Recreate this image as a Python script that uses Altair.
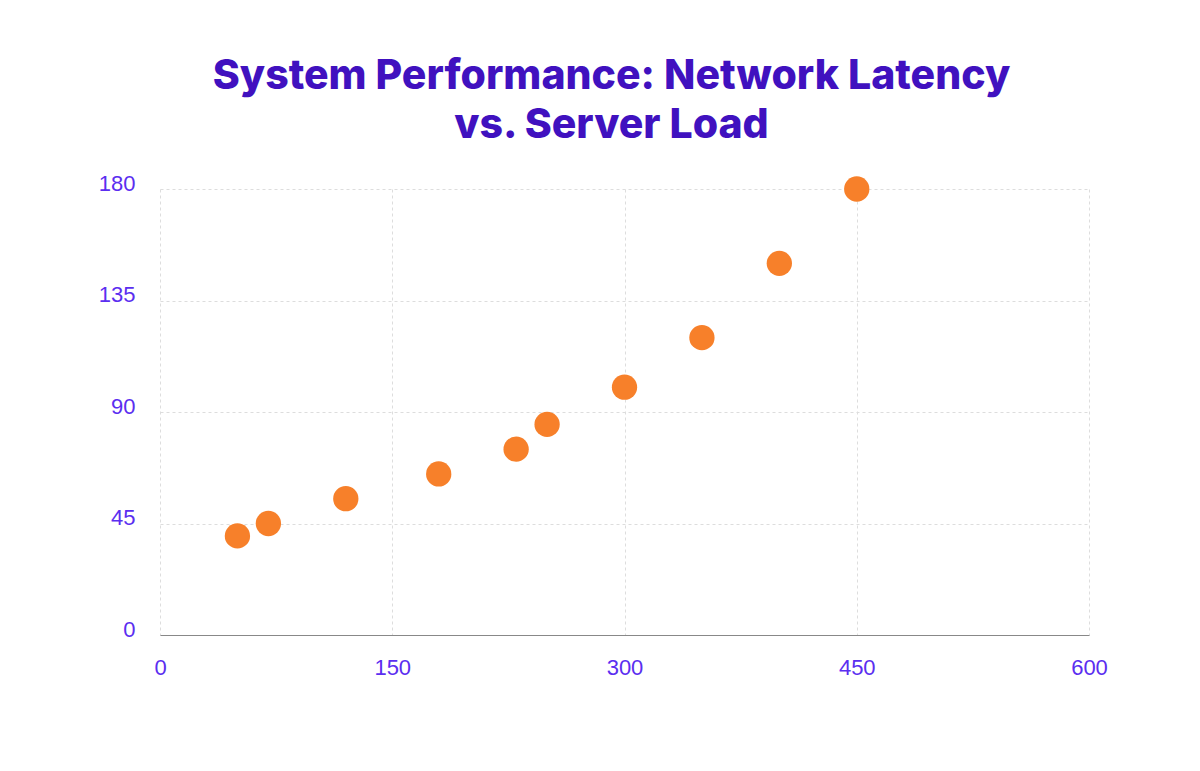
import altair as alt
import pandas as pd

server_load = [50, 70, 120, 180, 230, 250, 300, 350, 400, 450]
latency = [40, 45, 55, 65, 75, 85, 100, 120, 150, 180]

df = pd.DataFrame({"load": server_load, "latency": latency})

label_color = "#5b2ef0"

chart = alt.Chart(df).mark_circle(size=640, color="#F7802A", opacity=1).encode(
    x=alt.X("load:Q", scale=alt.Scale(domain=[0, 600], nice=False),
            axis=alt.Axis(values=[0, 150, 300, 450, 600], title=None, ticks=False,
                          domain=True, domainColor="#888888", domainWidth=1,
                          labelFlush=False,
                          labelPadding=22, labelFontSize=22, labelColor=label_color,
                          labelFont="Liberation Sans", gridDash=[3, 3], gridColor="#dddddd")),
    y=alt.Y("latency:Q", scale=alt.Scale(domain=[0, 180], nice=False),
            axis=alt.Axis(values=[0, 45, 90, 135, 180], title=None, ticks=False,
                          domain=False, labelPadding=25, labelFontSize=22,
                          labelFlush=False,
                          labelColor=label_color, labelFont="Liberation Sans",
                          labelOffset=-6, gridDash=[3, 3], gridColor="#dddddd")),
).properties(
    width=929,
    height=446,
    title=alt.TitleParams(
        text=["System Performance: Network Latency", "vs. Server Load"],
        font="Inter", fontSize=41, fontWeight=800, color="#4011bf",
        lineHeight=49, anchor="middle", offset=25, dx=-13,
    ),
    autosize=alt.AutoSizeParams(type="none"),
    padding={"left": 160, "top": 189, "right": 111, "bottom": 136},
).configure_view(stroke=None)

chart.save("out.html", embed_options={"renderer": "svg", "actions": False})
